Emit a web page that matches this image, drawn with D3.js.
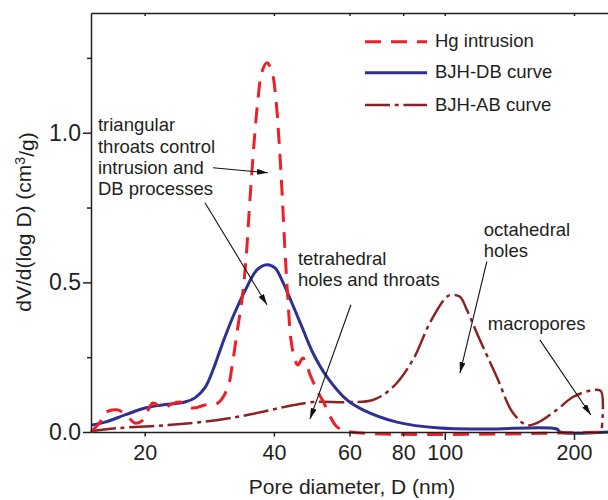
<!DOCTYPE html>
<html><head><meta charset="utf-8">
<script src="https://cdn.jsdelivr.net/npm/d3@7"></script>
<style>
body{margin:0;background:#fff}
svg{display:block}
text{font-family:"Liberation Sans",Arial,Helvetica,sans-serif;fill:#231f20}
</style>
</head><body>
<svg id="chart" width="608" height="500"></svg>
<script>
// ---------- data ----------
const hgD = [15, 15.74, 16.17, 17.24, 18.10, 18.99, 19.82, 20.91, 22.07, 23.16, 24.18, 25.79, 27.64, 29.63, 31.26, 31.94, 32.81, 33.70, 34.43, 35.18, 35.94, 36.72, 37.52, 38.54, 39.58, 40.44, 41.10, 41.76, 42.44, 43.13, 43.83, 44.78, 45.50, 46.74, 48.79, 50.65, 52.31, 54.31, 56.09, 60.46, 240];
const hgV = [0, 0.033, 0.064, 0.074, 0.057, 0.030, 0.040, 0.097, 0.080, 0.094, 0.100, 0.080, 0.090, 0.097, 0.150, 0.217, 0.331, 0.441, 0.575, 0.776, 0.960, 1.110, 1.204, 1.234, 1.204, 1.110, 0.977, 0.809, 0.609, 0.441, 0.308, 0.241, 0.224, 0.247, 0.184, 0.134, 0.097, 0.047, 0.017, 0, 0];

const dbD = [15, 16.17, 18.0, 20.04, 21.95, 24.83, 26.20, 27.64, 28.85, 30.28, 32.12, 34.62, 36.53, 38.54, 40.23, 41.99, 44.06, 46.49, 49.32, 53.16, 59.18, 64.48, 77.37, 97.43, 125.3, 182.4, 185.5, 240];
const dbV = [0.023, 0.033, 0.057, 0.080, 0.090, 0.100, 0.114, 0.148, 0.207, 0.291, 0.385, 0.485, 0.542, 0.559, 0.548, 0.500, 0.431, 0.351, 0.264, 0.184, 0.107, 0.074, 0.033, 0.013, 0.010, 0.010, 0, 0];

const abD = [15, 17.34, 22.67, 29.63, 35.56, 42.44, 49.32, 59.18, 68.03, 75.72, 84.30, 92.34, 101.1, 103.9, 108.5, 112.6, 120.7, 132.2, 144.1, 155.3, 163.9, 182.4, 198.8, 221.3, 231.0, 232.2];
const abV = [0.003, 0.013, 0.023, 0.040, 0.060, 0.084, 0.100, 0.100, 0.107, 0.150, 0.241, 0.365, 0.452, 0.458, 0.452, 0.408, 0.308, 0.184, 0.064, 0.023, 0.030, 0.074, 0.117, 0.140, 0.137, 0.013];

const xTicks = [20, 40, 60, 80, 100, 200];
const xLongTicks = [100, 200];
const yTicks = [0, 0.5, 1.0];
const yMinorTicks = [0.25, 0.75, 1.25];

const seriesNames = ["Hg intrusion", "BJH-DB curve", "BJH-AB curve"];
const seriesColors = ["#ec2027", "#2e3192", "#8b2323"];

const noteLines = [
  ["triangular", "throats control", "intrusion and", "DB processes"],
  ["tetrahedral", "holes and throats"],
  ["octahedral", "holes"],
  ["macropores"]
];
const noteD = [15.57, 45.5, 123.3, 126.0];
const noteV = [1.005, 0.5585, 0.6555, 0.3395];

const arrowFromD = [28.85, 27.64, 60.46, 125.3, 166.5];
const arrowFromV = [0.883, 0.766, 0.425, 0.569, 0.308];
const arrowToD   = [38.74, 38.54, 48.53, 108.5, 218.9];
const arrowToV   = [0.866, 0.425, 0.043, 0.197, 0.057];

// ---------- chart ----------
const svg = d3.select("#chart");
const x = d3.scaleLog().domain([15, 240]).range([91, 608]);
const y = d3.scaleLinear().domain([0, 1.4]).range([432, 13]);
const axisColor = "#231f20";

const line = d3.line().x(d => x(d[0])).y(d => y(d[1])).curve(d3.curveCatmullRom.alpha(0.5));
const zip = (a, b) => a.map((v, i) => [v, b[i]]);

const styles = [
  {w: 3, dash: "16,10"},
  {w: 3, dash: null},
  {w: 2.5, dash: "25,4.7,4,4.7"}
];

// AB curve
svg.append("path").datum(zip(abD, abV)).attr("d", line)
  .attr("fill", "none").attr("stroke", seriesColors[2]).attr("stroke-width", styles[2].w)
  .attr("stroke-dasharray", styles[2].dash);
// DB curve
svg.append("path").datum(zip(dbD, dbV)).attr("d", line)
  .attr("fill", "none").attr("stroke", seriesColors[1]).attr("stroke-width", styles[1].w)
  .attr("stroke-linejoin", "round");
// Hg curve
svg.append("path").datum(zip(hgD, hgV)).attr("d", line)
  .attr("fill", "none").attr("stroke", seriesColors[0]).attr("stroke-width", styles[0].w)
  .attr("stroke-dasharray", styles[0].dash);

// axes
function styleAxis(g) {
  g.selectAll("path.domain").attr("stroke", axisColor).attr("stroke-width", 1.5);
  g.selectAll(".tick line").attr("stroke", axisColor).attr("stroke-width", 1.5);
  g.selectAll(".tick text").attr("fill", axisColor).style("font-family", '"Liberation Sans",Arial,sans-serif');
}

const gx = svg.append("g").attr("transform", "translate(0,432)")
  .call(d3.axisBottom(x).tickValues(xTicks).tickFormat(d3.format("d"))
    .tickSize(4.5).tickPadding(8).tickSizeOuter(0));
styleAxis(gx);
gx.selectAll(".tick text").style("font-size", "21.5px");
gx.selectAll(".tick").filter(d => xLongTicks.includes(d)).select("line").attr("y2", 8);

const gt = svg.append("g").attr("transform", "translate(0,13)")
  .call(d3.axisTop(x).tickValues(xTicks).tickFormat("").tickSize(-3).tickSizeOuter(0));
styleAxis(gt);

const gy = svg.append("g").attr("transform", "translate(91,0)")
  .call(d3.axisLeft(y).tickValues(yTicks).tickFormat(d3.format(".1f"))
    .tickSize(8).tickPadding(2).tickSizeOuter(0));
styleAxis(gy);
gy.selectAll(".tick text").style("font-size", "23px");

const gym = svg.append("g").attr("transform", "translate(91,0)")
  .call(d3.axisLeft(y).tickValues(yMinorTicks).tickFormat("").tickSize(4).tickSizeOuter(0));
styleAxis(gym);
gym.select("path.domain").remove();

// axis titles
svg.append("text").attr("x", 352).attr("y", 494).attr("text-anchor", "middle")
  .style("font-size", "21px").text("Pore diameter, D (nm)");
const yt = svg.append("text").attr("transform", "translate(31,222) rotate(-90)")
  .attr("text-anchor", "middle").style("font-size", "21px");
yt.append("tspan").text("dV/d(log D) (cm");
yt.append("tspan").attr("dy", "-0.4em").style("font-size", "14px").text("3");
yt.append("tspan").attr("dy", "0.4em").text("/g)");

// legend
const legY = [41.7, 72.7, 105];
const leg = svg.append("g");
seriesNames.forEach((name, i) => {
  leg.append("line").attr("x1", 365).attr("x2", 427).attr("y1", legY[i]).attr("y2", legY[i])
    .attr("stroke", seriesColors[i]).attr("stroke-width", styles[i].w)
    .attr("stroke-dasharray", styles[i].dash);
  leg.append("text").attr("x", 435).attr("y", legY[i] + 5.5)
    .style("font-size", "18.5px").text(name);
});

// annotations
noteLines.forEach((lines, i) => {
  const t = svg.append("text").attr("x", x(noteD[i])).attr("y", y(noteV[i]))
    .style("font-size", "18.5px");
  lines.forEach((s, j) => {
    t.append("tspan").attr("x", x(noteD[i])).attr("dy", j === 0 ? 0 : 21.4).text(s);
  });
});

svg.append("defs").append("marker").attr("id", "arr")
  .attr("viewBox", "0 0 11 6").attr("refX", 11).attr("refY", 3)
  .attr("markerWidth", 11).attr("markerHeight", 6)
  .attr("markerUnits", "userSpaceOnUse").attr("orient", "auto")
  .append("path").attr("d", "M0,0L11,3L0,6Z").attr("fill", "#111");

arrowFromD.forEach((d, i) => {
  svg.append("line")
    .attr("x1", x(d)).attr("y1", y(arrowFromV[i]))
    .attr("x2", x(arrowToD[i])).attr("y2", y(arrowToV[i]))
    .attr("stroke", "#111").attr("stroke-width", 1.1)
    .attr("marker-end", "url(#arr)");
});
</script>
</body></html>
